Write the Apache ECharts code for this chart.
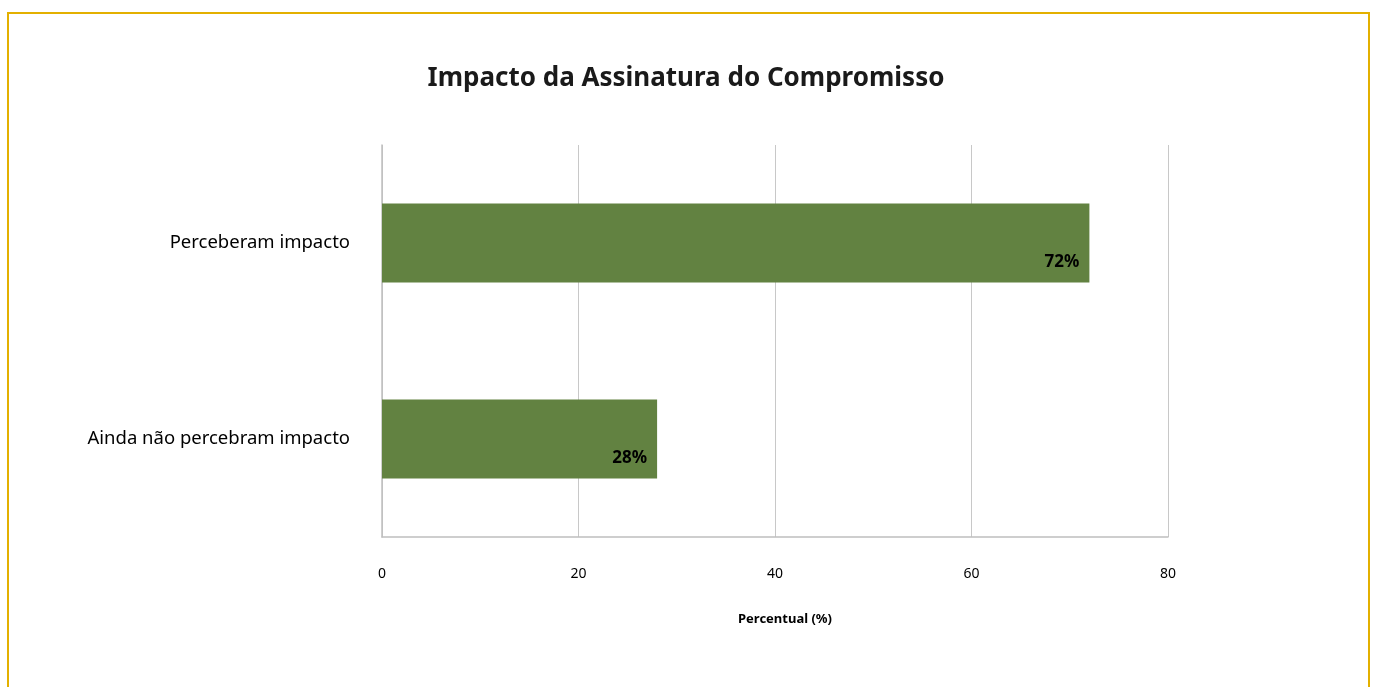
<!DOCTYPE html>
<html>
<head>
<meta charset="utf-8">
<script src="https://cdn.jsdelivr.net/npm/echarts@6/dist/echarts.min.js"></script>
<style>
html,body{margin:0;padding:0;background:#fff;overflow:hidden;}
#frame{position:absolute;left:7px;top:12px;width:1363px;height:700px;border:2px solid #E3B000;box-sizing:border-box;}
#chart{position:absolute;left:0;top:0;width:1375px;height:687px;}
</style>
</head>
<body>
<div id="frame"></div>
<div id="chart"></div>
<script>
const titleText = 'Impacto da Assinatura do Compromisso';
const categories = ['Ainda não percebram impacto', 'Perceberam impacto'];
const values = [28, 72];
const axisName = 'Percentual (%)';

const chart = echarts.init(document.getElementById('chart'));
const font = '"Noto Sans", "Open Sans", sans-serif';
chart.setOption({
  animation: false,
  textStyle: {fontFamily: font},
  title: {
    text: titleText,
    left: 681, top: 61, textAlign: 'center',
    textStyle: {fontSize: 26, fontWeight: 'bold', color: '#1a1a1a', fontFamily: font}
  },
  grid: {left: 382, top: 145, width: 786, height: 392, containLabel: false},
  xAxis: {
    type: 'value', min: 0, max: 80, interval: 20,
    name: axisName, nameLocation: 'middle', nameGap: 76,
    nameTextStyle: {fontSize: 13, fontWeight: 'bold', color: '#000', padding: [0,0,0,20]},
    axisLine: {show: true, lineStyle: {color: '#bfbfbf', width: 1.5}},
    axisTick: {show: false},
    axisLabel: {color: '#000', fontSize: 14, margin: 30},
    splitLine: {show: true, lineStyle: {color: '#c8c8c8', width: 1}}
  },
  yAxis: {
    type: 'category', data: categories,
    axisLine: {show: true, lineStyle: {color: '#bfbfbf', width: 1.5}},
    axisTick: {show: false},
    axisLabel: {color: '#000', fontSize: 18.5, margin: 32}
  },
  series: [{
    type: 'bar', data: values, barWidth: 79,
    itemStyle: {color: '#628241'},
    label: {
      show: true, position: 'insideRight', distance: 10, offset: [0, 19],
      formatter: p => p.value + '%',
      color: '#000', fontWeight: 'bold', fontSize: 17, fontFamily: font
    }
  }]
});
</script>
</body>
</html>
